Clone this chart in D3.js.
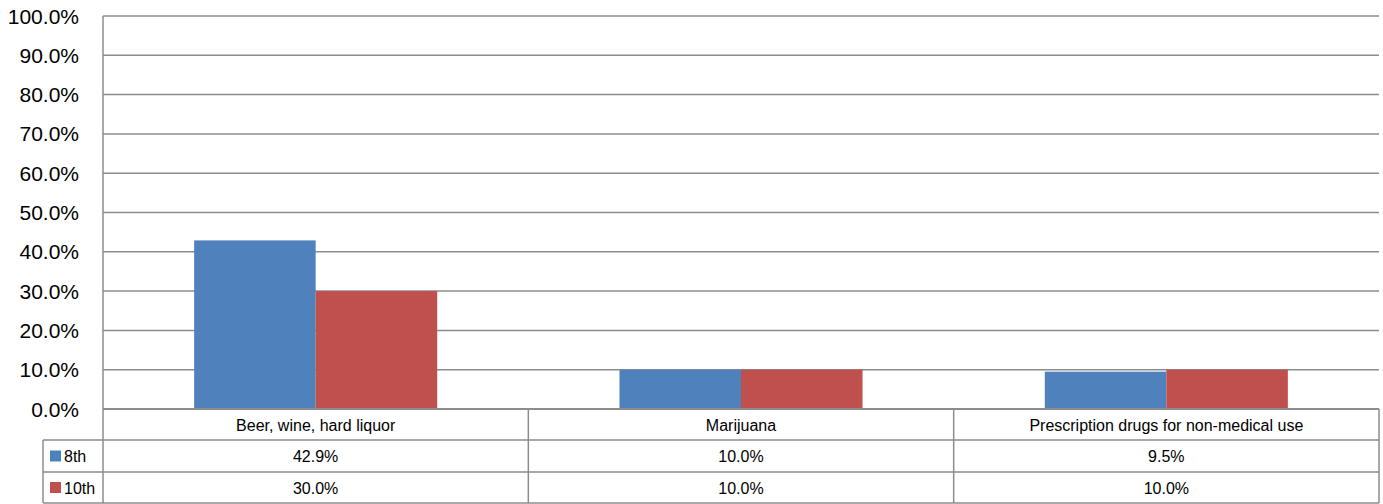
<!DOCTYPE html>
<html>
<head>
<meta charset="utf-8">
<script src="https://cdn.jsdelivr.net/npm/d3@7"></script>
<style>
  body { margin: 0; background: #fff; }
  svg { display: block; font-family: "Liberation Sans", Arial, sans-serif; }
</style>
</head>
<body>
<div id="chart"></div>
<script>
// data
const categories = ["Beer, wine, hard liquor", "Marijuana", "Prescription drugs for non-medical use"];
const seriesNames = ["8th", "10th"];
const values8th = [42.9, 10.0, 9.5];
const values10th = [30.0, 10.0, 10.0];
const yTicks = [0, 10, 20, 30, 40, 50, 60, 70, 80, 90, 100];

const colors = ["#4F81BD", "#C0504D"];
const seriesValues = [values8th, values10th];

const width = 1383, height = 504;
const margin = { left: 103, right: 4, top: 16 };
const plotBottom = 409;
const rowH = [31, 32, 31];
const legendLeft = 43;
const gridColor = "#8c8c8c";
const tableFont = "16px";

const svg = d3.select("#chart").append("svg")
    .attr("width", width)
    .attr("height", height);

const x = d3.scaleBand()
    .domain(categories)
    .range([margin.left, width - margin.right]);

const xInner = d3.scaleBand()
    .domain(seriesNames)
    .range([0, x.bandwidth()])
    .paddingOuter(0.75);

const y = d3.scaleLinear()
    .domain([0, 100])
    .range([plotBottom, margin.top]);

// gridlines
svg.append("g")
    .selectAll("line")
    .data(yTicks)
    .enter().append("line")
    .attr("x1", margin.left)
    .attr("x2", width - margin.right)
    .attr("y1", d => y(d))
    .attr("y2", d => y(d))
    .attr("stroke", gridColor)
    .attr("stroke-width", 1.5);

// y labels
svg.append("g")
    .selectAll("text")
    .data(yTicks)
    .enter().append("text")
    .attr("x", 79)
    .attr("y", d => y(d) + 7.5)
    .attr("text-anchor", "end")
    .style("font-size", "21px")
    .style("fill", "#000")
    .text(d => d.toFixed(1) + "%");

// bars
seriesNames.forEach((s, i) => {
    svg.append("g")
        .selectAll("rect")
        .data(categories)
        .enter().append("rect")
        .attr("x", c => x(c) + xInner(s))
        .attr("y", (c, j) => y(seriesValues[i][j]))
        .attr("width", xInner.bandwidth())
        .attr("height", (c, j) => plotBottom - y(seriesValues[i][j]))
        .attr("fill", colors[i]);
});

// baseline on top of bars
svg.append("line")
    .attr("x1", margin.left).attr("x2", width - margin.right)
    .attr("y1", plotBottom).attr("y2", plotBottom)
    .attr("stroke", gridColor).attr("stroke-width", 2);

// data table
const rowTop = [plotBottom, plotBottom + rowH[0], plotBottom + rowH[0] + rowH[1]];
const tableBottom = rowTop[2] + rowH[2];
const t = svg.append("g");

// horizontal lines
rowTop.slice(1).concat([tableBottom]).forEach(yy => {
    t.append("line")
        .attr("x1", legendLeft).attr("x2", width - margin.right)
        .attr("y1", yy).attr("y2", yy)
        .attr("stroke", gridColor).attr("stroke-width", 1.5);
});

// vertical lines
const vx = [margin.left].concat(categories.map(c => x(c) + x.bandwidth()));
vx.forEach(xx => {
    t.append("line")
        .attr("x1", xx).attr("x2", xx)
        .attr("y1", xx === margin.left ? margin.top : plotBottom)
        .attr("y2", tableBottom)
        .attr("stroke", gridColor).attr("stroke-width", 1.5);
});
t.append("line")
    .attr("x1", legendLeft).attr("x2", legendLeft)
    .attr("y1", rowTop[1]).attr("y2", tableBottom)
    .attr("stroke", gridColor).attr("stroke-width", 1.5);

// header
t.selectAll(".hdr")
    .data(categories)
    .enter().append("text")
    .attr("x", c => x(c) + x.bandwidth() / 2)
    .attr("y", rowTop[0] + rowH[0] / 2 + 6)
    .attr("text-anchor", "middle")
    .style("font-size", tableFont)
    .text(c => c);

// series rows
seriesNames.forEach((s, i) => {
    const top = rowTop[i + 1];
    const h = rowH[i + 1];
    t.append("rect")
        .attr("x", 50).attr("y", top + h / 2 - 5.5)
        .attr("width", 11).attr("height", 11)
        .attr("fill", colors[i]);
    t.append("text")
        .attr("x", 64).attr("y", top + h / 2 + 6)
        .style("font-size", tableFont)
        .text(s);
    t.selectAll(".v" + i)
        .data(categories)
        .enter().append("text")
        .attr("x", c => x(c) + x.bandwidth() / 2)
        .attr("y", top + h / 2 + 6)
        .attr("text-anchor", "middle")
        .style("font-size", tableFont)
        .text((c, j) => seriesValues[i][j].toFixed(1) + "%");
});
</script>
</body>
</html>
